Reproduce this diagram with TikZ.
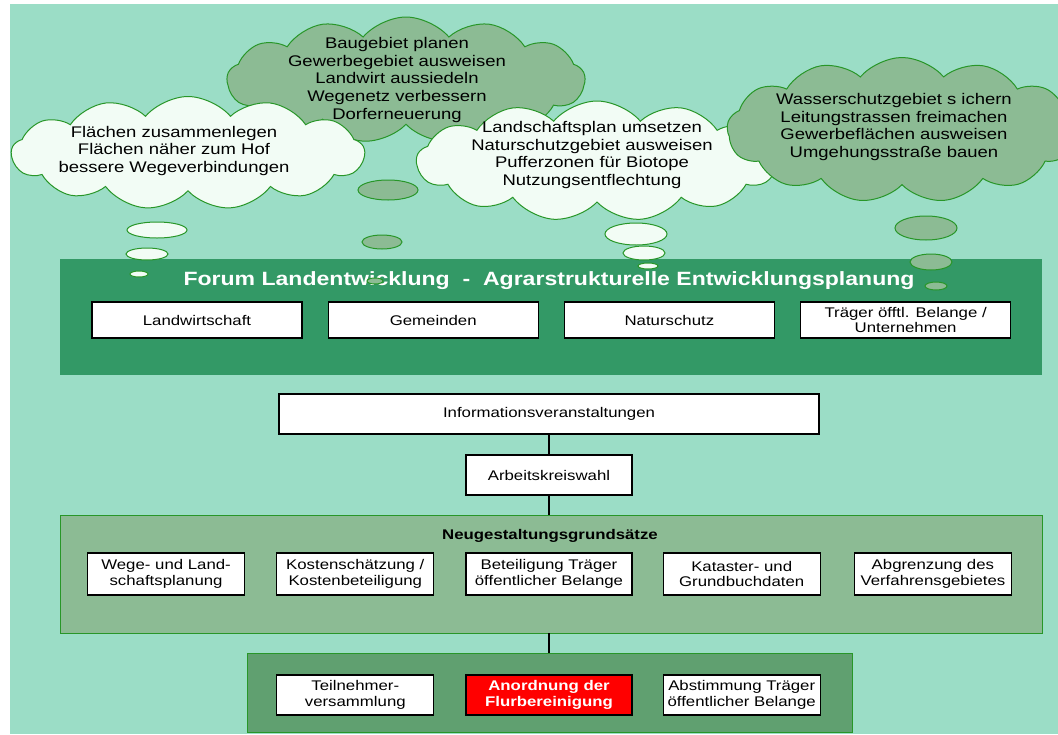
\documentclass[tikz,border=0pt]{standalone}
\usepackage{fontspec}
\setmainfont{Liberation Sans}[FakeStretch=1.2]
\usetikzlibrary{positioning,shapes.symbols}

\definecolor{bgteal}{RGB}{155,221,198}
\definecolor{forumgreen}{RGB}{51,153,102}
\definecolor{palegreen}{RGB}{140,187,148}
\definecolor{midgreen}{RGB}{96,160,112}
\definecolor{edgegreen}{RGB}{40,150,40}
\definecolor{cloudwhite}{RGB}{242,252,245}

\begin{document}
\begin{tikzpicture}[x=1pt, y=-1pt,
  box/.style={draw=black, line width=1.2pt, fill=white, minimum height=36pt, inner sep=1pt, align=center, font=\fontsize{14}{15.5}\selectfont},
  panel/.style={draw=edgegreen, line width=0.8pt, inner sep=0pt},
  wolke/.style={cloud, cloud puffs=13, cloud puff arc=100, cloud ignores aspect, draw=edgegreen, line width=1pt, inner sep=0pt},
  wolketext/.style={align=center, font=\fontsize{15.4}{17.6}\selectfont},
  blase/.style={draw=edgegreen, line width=1pt},
  verb/.style={line width=1.2pt}
]

\useasboundingbox (0,0) rectangle (1058,734);
\fill[bgteal] (10,4) rectangle (1058,734);

% thought clouds, back to front
\node[wolke, fill=palegreen, minimum width=358pt, minimum height=126pt] (wolkeB) at (406,80) {};
\node[wolketext] (textB) at (397,80) {Baugebiet planen\\Gewerbegebiet ausweisen\\Landwirt aussiedeln\\Wegenetz verbessern\\Dorferneuerung};
\node[wolke, fill=cloudwhite, minimum width=353pt, minimum height=113pt] (wolkeA) at (188,153) {};
\node[wolketext] (textA) at (174,151) {Flächen zusammenlegen\\Flächen näher zum Hof\\bessere Wegeverbindungen};
\node[wolke, fill=cloudwhite, minimum width=361pt, minimum height=120pt] (wolkeC) at (597,161) {};
\node[wolketext] (textC) at (592,155) {Landschaftsplan umsetzen\\Naturschutzgebiet ausweisen\\Pufferzonen für Biotope\\Nutzungsentflechtung};
\node[wolke, fill=palegreen, minimum width=350pt, minimum height=145pt] (wolkeD) at (902,130) {};
\node[wolketext] (textD) at (894,127) {Wasserschutzgebiet s ichern\\Leitungstrassen freimachen\\Gewerbeflächen ausweisen\\Umgehungsstraße bauen};

% Forum
\node[fill=forumgreen, minimum width=982pt, minimum height=116pt, inner sep=0pt] (forum) at (551,317) {};
\node[text=white, font=\bfseries\fontsize{19.2}{21}\selectfont] (titel) at (549,281) {Forum Landentwicklung \ - \ Agrarstrukturelle Entwicklungsplanung};
\node[box, minimum width=210pt] (landw) at (197,320) {Landwirtschaft};
\node[box, minimum width=210pt, right=25pt of landw] (gemeind) {Gemeinden};
\node[box, minimum width=210pt, right=25pt of gemeind] (natur) {Naturschutz};
\node[box, minimum width=210pt, right=25pt of natur] (traeger) {Träger öfftl. Belange /\\Unternehmen};

% bubbles
\draw[blase, fill=cloudwhite] (157,230) ellipse [x radius=30pt, y radius=8pt];
\draw[blase, fill=cloudwhite] (147,254) ellipse [x radius=21pt, y radius=6pt];
\draw[blase, fill=cloudwhite] (139,274) ellipse [x radius=9pt, y radius=3pt];
\draw[blase, fill=palegreen] (388,190) ellipse [x radius=30pt, y radius=10pt];
\draw[blase, fill=palegreen] (382,242) ellipse [x radius=20pt, y radius=7pt];
\draw[blase, fill=palegreen] (375,281) ellipse [x radius=8pt, y radius=3pt];
\draw[blase, fill=cloudwhite] (636,234) ellipse [x radius=31pt, y radius=11pt];
\draw[blase, fill=cloudwhite] (644,253) ellipse [x radius=21pt, y radius=7pt];
\draw[blase, fill=cloudwhite] (648,266) ellipse [x radius=10pt, y radius=3pt];
\draw[blase, fill=palegreen] (926,228) ellipse [x radius=31pt, y radius=12pt];
\draw[blase, fill=palegreen] (931,262) ellipse [x radius=21pt, y radius=8pt];
\draw[blase, fill=palegreen] (936,286) ellipse [x radius=11pt, y radius=4pt];

% Ablauf
\node[box, minimum width=540pt, minimum height=40pt] (info) at (549,414) {Informationsveranstaltungen};
\node[box, minimum width=166pt, minimum height=40pt] (akw) at (549,475) {Arbeitskreiswahl};

\node[panel, fill=palegreen, minimum width=982pt, minimum height=118pt] (neu) at (551,574) {};
\node[font=\bfseries\fontsize{14}{15.5}\selectfont] (neutitel) at (550,536) {Neugestaltungsgrundsätze};
\node[box, minimum width=166pt, minimum height=42pt] (beteil) at (549,574) {Beteiligung Träger\\öffentlicher Belange};
\node[box, minimum width=157pt, minimum height=42pt, left=31pt of beteil] (kosten) {Kostenschätzung /\\Kostenbeteiligung};
\node[box, minimum width=157pt, minimum height=42pt, left=31pt of kosten] (wege) {Wege- und Land-\\schaftsplanung};
\node[box, minimum width=157pt, minimum height=42pt, right=30pt of beteil] (kataster) {Kataster- und\\Grundbuchdaten};
\node[box, minimum width=157pt, minimum height=42pt, right=33pt of kataster] (abgrenz) {Abgrenzung des\\Verfahrensgebietes};

\node[panel, fill=midgreen, minimum width=605pt, minimum height=79pt] (anord) at (549.5,692.5) {};
\node[box, fill=red, text=white, font=\bfseries\fontsize{14}{15.5}\selectfont, minimum width=166pt, minimum height=40pt] (flurb) at (549,695) {Anordnung der\\Flurbereinigung};
\node[box, minimum width=157pt, minimum height=40pt, left=31pt of flurb] (teiln) {Teilnehmer-\\versammlung};
\node[box, minimum width=157pt, minimum height=40pt, right=30pt of flurb] (abstimm) {Abstimmung Träger\\öffentlicher Belange};

\draw[verb] (info) -- (akw);
\draw[verb] (akw) -- (akw |- neu.north);
\draw[verb] (neu.south -| akw) -- (anord.north -| akw);

\end{tikzpicture}
\end{document}
